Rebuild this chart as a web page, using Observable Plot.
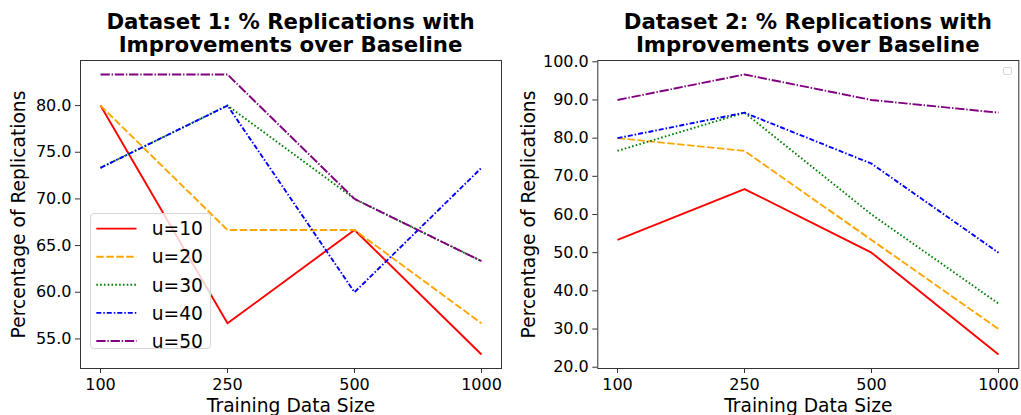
<!DOCTYPE html>
<html><head><meta charset="utf-8">
<script src="https://cdn.jsdelivr.net/npm/d3@7"></script>
<script src="https://cdn.jsdelivr.net/npm/@observablehq/plot@0.6"></script>
<style>
body{margin:0;background:#fff;font-family:"DejaVu Sans",sans-serif;}
#wrap{position:relative;width:1021px;height:415px;overflow:hidden;background:#fff;}
.panel{position:absolute;top:0;}
.title{position:absolute;top:10.4px;width:500px;font-weight:bold;font-size:21.3px;line-height:23px;text-align:center;color:#000;white-space:nowrap;}
.legend{position:absolute;box-sizing:border-box;border:1px solid #d6d6d6;border-radius:4px;background:rgba(255,255,255,0.8);}
</style></head><body><div id="wrap"></div>
<script>
// ---- data ----
const sizes = ["100", "250", "500", "1000"];
const seriesNames = ["u=10", "u=20", "u=30", "u=40", "u=50"];
const colors = ["red", "orange", "green", "blue", "purple"];
const dashes = [null, "7.4,2.6", "1.6,2.2", "5,2,1.5,2", "9.3,1.8,1.4,1.8"];

const ds1_u10 = [80.0, 56.67, 66.67, 53.33];
const ds1_u20 = [80.0, 66.67, 66.67, 56.67];
const ds1_u30 = [73.33, 80.0, 70.0, 63.33];
const ds1_u40 = [73.33, 80.0, 60.0, 73.33];
const ds1_u50 = [83.33, 83.33, 70.0, 63.33];

const ds2_u10 = [53.33, 66.67, 50.0, 23.33];
const ds2_u20 = [80.0, 76.67, 53.33, 30.0];
const ds2_u30 = [76.67, 86.67, 60.0, 36.67];
const ds2_u40 = [80.0, 86.67, 73.33, 50.0];
const ds2_u50 = [90.0, 96.67, 90.0, 86.67];

const yTicks1 = [55, 60, 65, 70, 75, 80];
const yTicks2 = [20, 30, 40, 50, 60, 70, 80, 90, 100];

const titles = ["Dataset 1: % Replications with\nImprovements over Baseline",
                "Dataset 2: % Replications with\nImprovements over Baseline"];
const xLabel = "Training Data Size";
const yLabel = "Percentage of Replications";

// ---- build ----
function rows(list) {
  return list.flatMap((vals, i) => vals.map((v, j) => ({series: seriesNames[i], size: sizes[j], value: v})));
}
const data1 = rows([ds1_u10, ds1_u20, ds1_u30, ds1_u40, ds1_u50]);
const data2 = rows([ds2_u10, ds2_u20, ds2_u30, ds2_u40, ds2_u50]);

function pad(vals) {
  const lo = d3.min(vals), hi = d3.max(vals), m = (hi - lo) * 0.05;
  return [lo - m, hi + m];
}

function makePlot(data, yTicks, width, ml, mr) {
  return Plot.plot({
    width, height: 415,
    marginLeft: ml, marginRight: mr, marginTop: 60, marginBottom: 47,
    style: {fontFamily: "DejaVu Sans", background: "transparent", overflow: "visible", color: "#000"},
    x: {type: "point", domain: sizes, padding: 0.15},
    y: {domain: pad(data.map(d => d.value))},
    marks: [
      ...seriesNames.map((s, i) => Plot.line(data.filter(d => d.series === s), {
        x: "size", y: "value", stroke: colors[i], strokeWidth: 1.9,
        strokeDasharray: dashes[i] || undefined, strokeLinejoin: "round", strokeLinecap: "butt"
      })),
      Plot.frame({stroke: "#333", strokeWidth: 1}),
      Plot.axisX({tickSize: 5, tickPadding: 5, fontSize: 16, label: null, stroke: "#333"}),
      Plot.axisY({ticks: yTicks, tickFormat: d3.format(".1f"), tickSize: 5, tickPadding: 4, fontSize: 16, label: null, stroke: "#333"}),
      Plot.text([xLabel], {frameAnchor: "bottom", dy: 30, lineAnchor: "top", fontSize: 18.67, fill: "#000"}),
      Plot.text([yLabel], {frameAnchor: "left", dx: -(ml - 19), rotate: -90, textAnchor: "middle", lineAnchor: "middle", fontSize: 18.67, fill: "#000"})
    ]
  });
}

const wrap = document.getElementById("wrap");
const p1 = makePlot(data1, yTicks1, 510, 80, 9);
p1.classList.add("panel"); p1.style.left = "0px";
wrap.appendChild(p1);
const p2 = makePlot(data2, yTicks2, 511, 87.3, 2.7);
p2.classList.add("panel"); p2.style.left = "510px";
wrap.appendChild(p2);

// titles
[[290.5, titles[0]], [807.8, titles[1]]].forEach(([cx, t]) => {
  const d = document.createElement("div");
  d.className = "title";
  d.style.left = (cx - 250) + "px";
  d.innerHTML = t.split("\n").join("<br>");
  wrap.appendChild(d);
});

// legend (left panel)
const lg = document.createElement("div");
lg.className = "legend";
Object.assign(lg.style, {left: "90px", top: "212.7px", width: "121px", height: "136.6px"});
const ns = "http://www.w3.org/2000/svg";
const svg = document.createElementNS(ns, "svg");
svg.setAttribute("width", 121); svg.setAttribute("height", 137);
svg.style.position = "absolute"; svg.style.left = "-1px"; svg.style.top = "-1px";
svg.style.fontFamily = "DejaVu Sans"; svg.style.overflow = "visible";
seriesNames.forEach((s, i) => {
  const y = 15.6 + i * 28.1;
  const ln = document.createElementNS(ns, "line");
  ln.setAttribute("x1", 6.3); ln.setAttribute("x2", 46.5); ln.setAttribute("y1", y); ln.setAttribute("y2", y);
  ln.setAttribute("stroke", colors[i]); ln.setAttribute("stroke-width", 1.9);
  if (dashes[i]) ln.setAttribute("stroke-dasharray", dashes[i]);
  svg.appendChild(ln);
  const tx = document.createElementNS(ns, "text");
  tx.setAttribute("x", 61.7); tx.setAttribute("y", y); tx.setAttribute("dy", "0.36em");
  tx.setAttribute("font-size", 18.67); tx.textContent = s;
  svg.appendChild(tx);
});
lg.appendChild(svg);
wrap.appendChild(lg);

// empty legend (right panel)
const lg2 = document.createElement("div");
lg2.className = "legend";
Object.assign(lg2.style, {left: "1002.7px", top: "66.7px", width: "9px", height: "8.6px", borderRadius: "2px"});
wrap.appendChild(lg2);
</script>
</body></html>
